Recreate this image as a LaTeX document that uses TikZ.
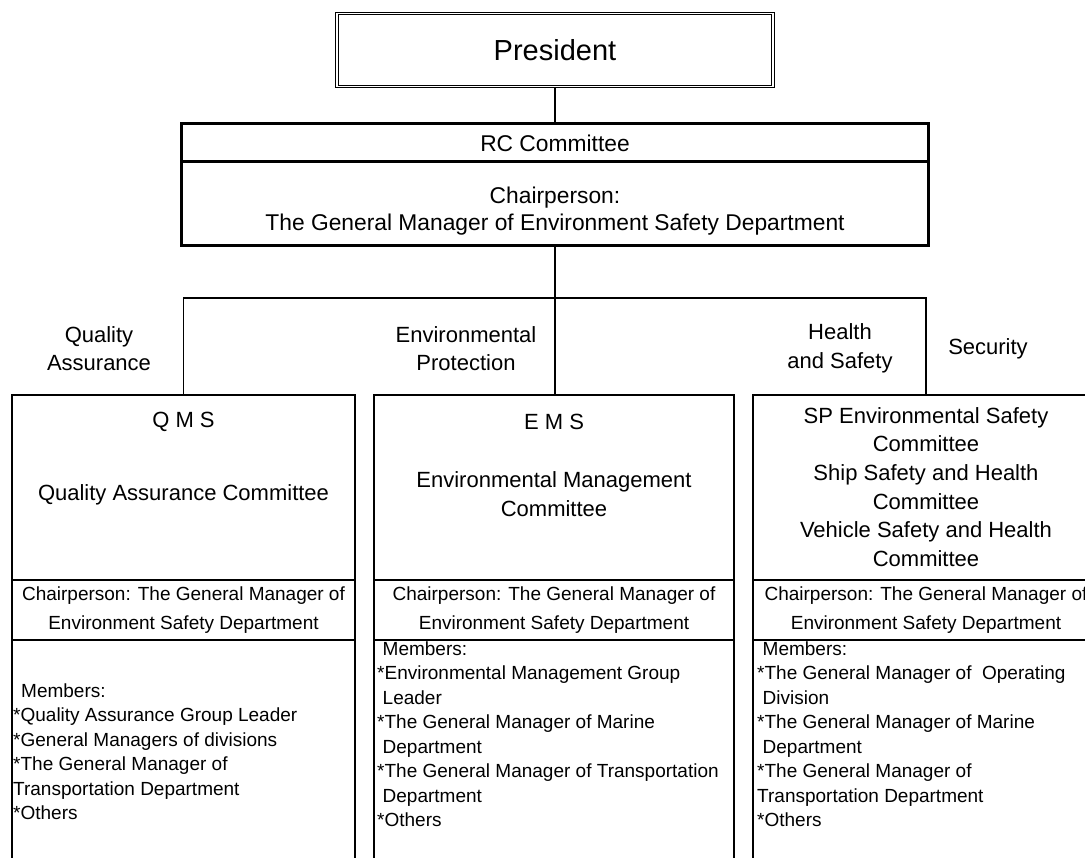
\documentclass[tikz,border=0pt]{standalone}
\usepackage{fontspec}
\setmainfont{Liberation Sans}
\begin{document}
\begin{tikzpicture}[x=1pt,y=-1pt,line join=miter,
	rcbox/.style={rectangle,draw,line width=3pt,inner sep=0pt,outer sep=0pt,minimum width=747,align=center,font=\fontsize{22.8}{27}\selectfont},
	cellbox/.style={rectangle,draw,line width=1.6pt,inner sep=0pt,outer sep=0pt},
	headtext/.style={align=center,inner sep=0pt,font=\fontsize{22}{28.6}\selectfont},
	chairtext/.style={align=center,font=\fontsize{19}{29}\selectfont},
	members/.style={align=left,inner sep=0pt,anchor=north west,font=\fontsize{19}{24.5}\selectfont},
	link/.style={line width=1.7pt}]
	\useasboundingbox (0,0) rectangle (1085,858);
	\clip (0,0) rectangle (1085,858);
	% top
	\path(555,50)node[rectangle,draw,double,line width=1.2pt,double distance=1.2pt,
	minimum width=436,minimum height=73,font=\fontsize{29}{34}\selectfont](pres){President};
	\path(555,143)node[rcbox,minimum height=38](rc){RC Committee}
	(555,204)node[rcbox,minimum height=84](rcchair){\rule{0pt}{30pt}Chairperson:\\The General Manager of Environment Safety Department};
	% the three committees
	\path(183.5,487.5)node[cellbox,minimum width=343,minimum height=185](qms){}
	(183.5,610)node[cellbox,chairtext,minimum width=343,minimum height=60](qmschair){Chairperson: The General Manager of\\Environment Safety Department}
	(183.5,770)node[cellbox,minimum width=343,minimum height=260](qmsmem){};
	\path(554,487.5)node[cellbox,minimum width=360,minimum height=185](ems){}
	(554,610)node[cellbox,chairtext,minimum width=360,minimum height=60](emschair){Chairperson: The General Manager of\\Environment Safety Department}
	(554,770)node[cellbox,minimum width=360,minimum height=260](emsmem){};
	\path(926,487.5)node[cellbox,minimum width=346,minimum height=185](sms){}
	(926,610)node[cellbox,chairtext,minimum width=346,minimum height=60](smschair){Chairperson: The General Manager of\\Environment Safety Department}
	(926,770)node[cellbox,minimum width=346,minimum height=260](smsmem){};
	% names
	\path(qms.north)++(0,27)node[headtext](qmsname){Q M S}
	(qms.north)++(0,100)node[headtext](qmstitle){Quality Assurance Committee};
	\path(ems.north)++(0,27)node[headtext](emsname){E M S}
	(ems.north)++(0,99)node[headtext](emstitle){Environmental Management\\Committee};
	\path(sms.north)++(0,92)node[headtext](smstitle){SP Environmental Safety\\Committee\\Ship Safety and Health\\Committee\\Vehicle Safety and Health\\Committee};
	% members
	\path(qmsmem.north west)++(1,43.4)node[members](qmslist){\hspace*{8pt}Members:\\{*}Quality Assurance Group Leader\\{*}General Managers of divisions\\{*}The General Manager of\\Transportation Department\\{*}Others};
	\path(emsmem.north west)++(3,1.4)node[members](emslist){\hspace*{5.5pt}Members:\\{*}Environmental Management Group\\\hspace*{5.5pt}Leader\\{*}The General Manager of Marine\\\hspace*{5.5pt}Department\\{*}The General Manager of Transportation\\\hspace*{5.5pt}Department\\{*}Others};
	\path(smsmem.north west)++(4,1.4)node[members](smslist){\hspace*{5.5pt}Members:\\{*}The General Manager of\ \ Operating\\\hspace*{5.5pt}Division\\{*}The General Manager of Marine\\\hspace*{5.5pt}Department\\{*}The General Manager of\\Transportation Department\\{*}Others};
	% fields
	\path(99,348.5)node[headtext](qa){Quality\\Assurance}
	(466,348.5)node[headtext](ep){Environmental\\Protection}
	(840,348.5)node[headtext](hs){Health\\and Safety}
	(988,349)node[headtext](sec){Security};
	% lines
	\coordinate(bus)at(555,298);
	\draw[link](pres.south)--(rc.north);
	\draw[link](rcchair.south)--(rcchair.south|-ems.north);
	\draw[link](qms.north)|-(bus)-|(sms.north);
\end{tikzpicture}
\end{document}
